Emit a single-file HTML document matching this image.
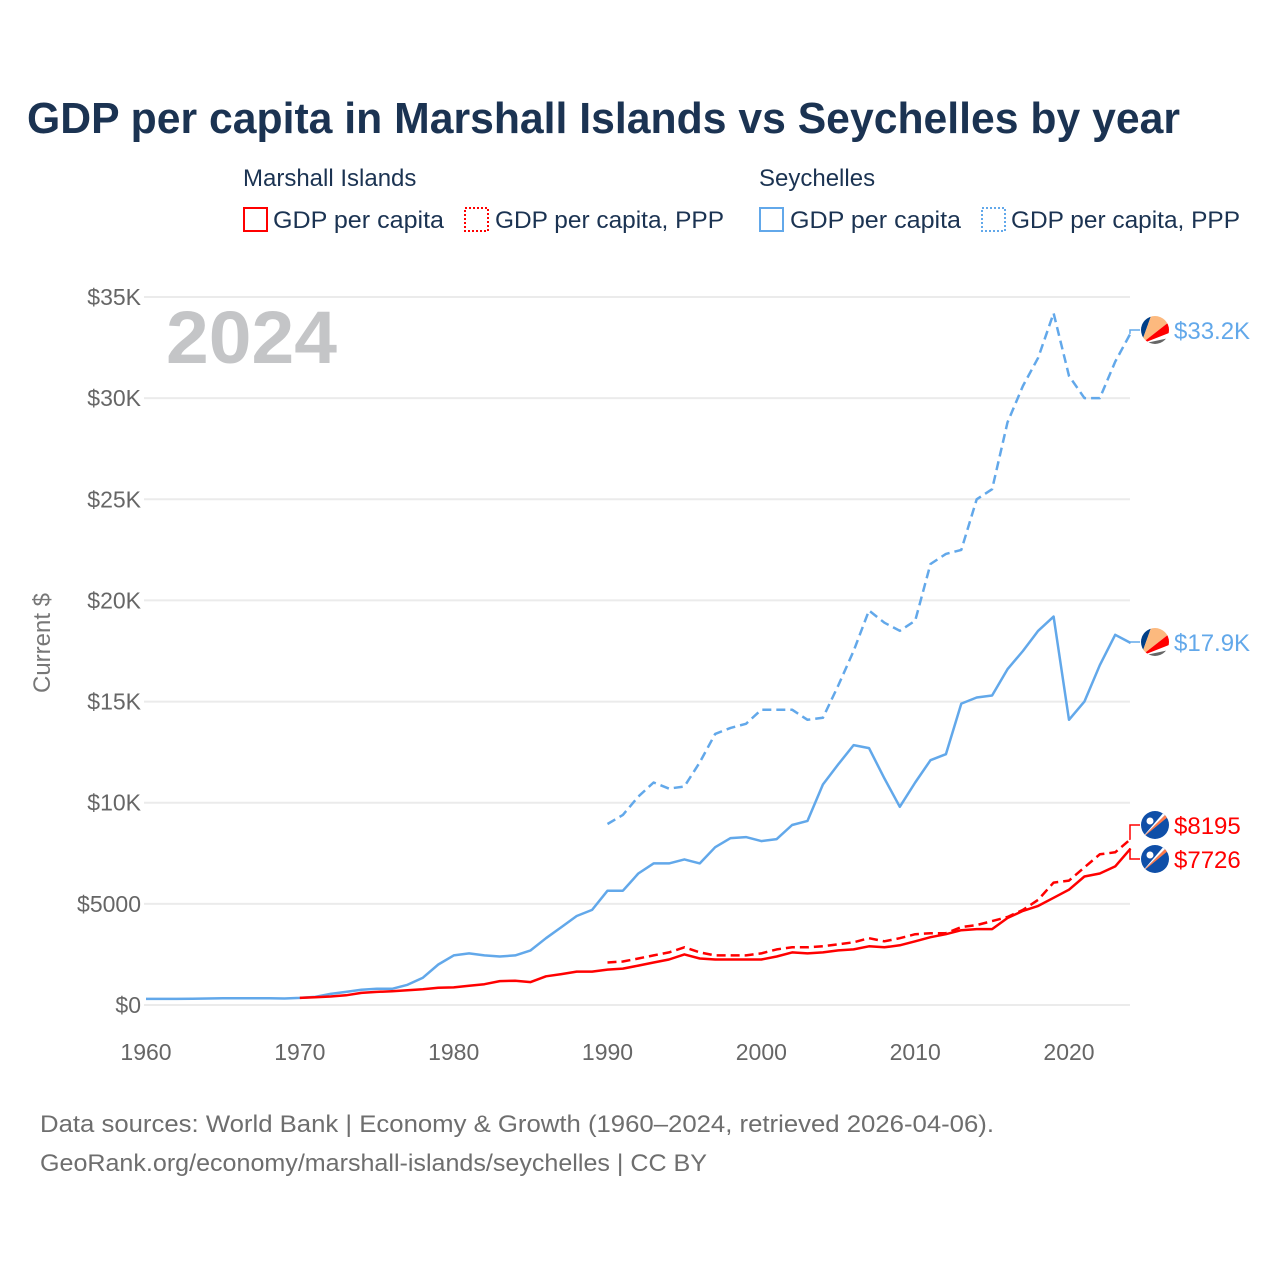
<!DOCTYPE html>
<html><head><meta charset="utf-8"><style>
body{margin:0;background:#fff;}
svg text{font-family:"Liberation Sans",sans-serif;}
</style></head><body>
<svg id="chart" width="1280" height="1280" viewBox="0 0 1280 1280" xmlns="http://www.w3.org/2000/svg">
<rect width="1280" height="1280" fill="#fff"/>
<text x="27" y="133" font-size="44" font-weight="bold" fill="#1b3352" textLength="1153" lengthAdjust="spacingAndGlyphs">GDP per capita in Marshall Islands vs Seychelles by year</text>
<g font-size="24" fill="#1b3352">
<text x="243" y="186">Marshall Islands</text>
<text x="759" y="186">Seychelles</text>
<g><rect x="244" y="208" width="23" height="23" fill="none" stroke="#f00" stroke-width="2"/><text x="273" y="228" textLength="171" lengthAdjust="spacingAndGlyphs">GDP per capita</text></g>
<g><rect x="465" y="208" width="23" height="23" fill="none" stroke="#f00" stroke-width="2" stroke-dasharray="2,2"/><text x="495" y="228" textLength="229" lengthAdjust="spacingAndGlyphs">GDP per capita, PPP</text></g>
<g><rect x="760" y="208" width="23" height="23" fill="none" stroke="#62a8ea" stroke-width="2"/><text x="790" y="228" textLength="171" lengthAdjust="spacingAndGlyphs">GDP per capita</text></g>
<g><rect x="982" y="208" width="23" height="23" fill="none" stroke="#62a8ea" stroke-width="2" stroke-dasharray="2,2"/><text x="1011" y="228" textLength="229" lengthAdjust="spacingAndGlyphs">GDP per capita, PPP</text></g>
</g>
<text x="166" y="363" font-size="74" font-weight="bold" fill="#c4c5c7" textLength="171" lengthAdjust="spacingAndGlyphs">2024</text>
<text transform="translate(50,643) rotate(-90)" text-anchor="middle" font-size="24" fill="#777">Current $</text>
<g id="grid"></g><g id="series"></g><g id="labels"></g>
<text x="40" y="1132" font-size="24" fill="#6e6e6e" textLength="954" lengthAdjust="spacingAndGlyphs">Data sources: World Bank | Economy &amp; Growth (1960–2024, retrieved 2026-04-06).</text>
<text x="40" y="1171" font-size="24" fill="#6e6e6e" textLength="667" lengthAdjust="spacingAndGlyphs">GeoRank.org/economy/marshall-islands/seychelles | CC BY</text>
</svg>
<script>
const yTicks=[0,5000,10000,15000,20000,25000,30000,35000];
const yTickLabels=["$0","$5000","$10K","$15K","$20K","$25K","$30K","$35K"];
const xTicks=[1960,1970,1980,1990,2000,2010,2020];
const scGdpStart=1960;
const scGdp=[300,300,300,310,320,330,330,330,330,320,350,400,550,650,750,800,800,1000,1350,2000,2450,2550,2450,2400,2450,2700,3300,3850,4400,4700,5650,5650,6500,7000,7000,7200,7000,7800,8250,8300,8100,8200,8900,9100,10900,11900,12850,12700,11200,9800,11000,12100,12400,14900,15200,15300,16600,17500,18500,19200,14100,15000,16800,18300,17900];
const scPppStart=1990;
const scPpp=[8950,9400,10300,11000,10700,10800,12000,13400,13700,13900,14600,14600,14600,14100,14200,15800,17500,19500,18900,18500,19000,21800,22300,22500,25000,25500,28800,30600,32000,34200,31100,30000,30000,31800,33200];
const mhGdpStart=1970;
const mhGdp=[350,380,420,480,600,650,680,730,780,850,870,950,1030,1180,1200,1130,1420,1530,1650,1650,1750,1800,1950,2100,2250,2500,2300,2250,2250,2250,2250,2400,2600,2550,2600,2700,2750,2900,2850,2950,3150,3350,3500,3700,3750,3750,4300,4650,4900,5300,5700,6350,6500,6850,7726];
const mhPppStart=1990;
const mhPpp=[2100,2150,2300,2450,2600,2850,2600,2450,2450,2450,2550,2750,2850,2850,2900,3000,3100,3300,3150,3300,3500,3550,3550,3850,3950,4150,4350,4700,5200,6050,6150,6800,7450,7550,8195];
const endLabels=["$33.2K","$17.9K","$8195","$7726"];

const NS="http://www.w3.org/2000/svg";
const X0=146,X1=1069,Y0=1005,Y1=297;
const xs=y=>X0+(y-1960)*(X1-X0)/60;
const ys=v=>Y0-v*(Y0-Y1)/35000;
function mk(tag,attrs,parent){const e=document.createElementNS(NS,tag);for(const k in attrs)e.setAttribute(k,attrs[k]);parent.appendChild(e);return e;}
const grid=document.getElementById('grid');
yTicks.forEach((t,i)=>{
  const l=mk('line',{x1:144,x2:1130,y1:ys(t),y2:ys(t),stroke:'#ebebeb','stroke-width':2},grid);
  
  
  const tx=mk('text',{x:141,y:ys(t)+8,'text-anchor':'end','font-size':23,fill:'#666'},grid);
  tx.textContent=yTickLabels[i];
  
  
});
xTicks.forEach(t=>{
  const tx=mk('text',{x:xs(t),y:1060,'text-anchor':'middle','font-size':23,fill:'#666'},grid);
  tx.textContent=t;
  
  
});
const ser=document.getElementById('series');
function line(arr,start,color,dash,name){
  const d=arr.map((v,i)=>(i?'L':'M')+xs(start+i).toFixed(1)+','+ys(v).toFixed(1)).join('');
  const p=mk('path',{d:d,fill:'none',stroke:color,'stroke-width':2.5,'stroke-linejoin':'round'},ser);
  if(dash)p.setAttribute('stroke-dasharray','9,5');
  
  
}
line(scPpp,scPppStart,'#62a8ea',true,'seychelles-ppp-line');
line(scGdp,scGdpStart,'#62a8ea',false,'seychelles-gdp-line');
line(mhPpp,mhPppStart,'#ff0000',true,'marshall-ppp-line');
line(mhGdp,mhGdpStart,'#ff0000',false,'marshall-gdp-line');
const lab=document.getElementById('labels');
const ends=[
 {v:scPpp[scPpp.length-1],ly:330,c:'#62a8ea',f:'sc'},
 {v:scGdp[scGdp.length-1],ly:642,c:'#62a8ea',f:'sc'},
 {v:mhPpp[mhPpp.length-1],ly:825,c:'#ff0000',f:'mh'},
 {v:mhGdp[mhGdp.length-1],ly:859,c:'#ff0000',f:'mh'}];
ends.forEach((e,i)=>{
  const ey=ys(e.v);
  const g=mk('g',{},lab);
  
  
  mk('path',{d:`M${xs(2024)},${ey}H1130V${e.ly}H1140`,fill:'none',stroke:e.c,'stroke-width':1.5},g);
  const cx=1155,cy=e.ly;
  const clip=mk('clipPath',{id:'c'+i},g);
  mk('circle',{cx:cx,cy:cy,r:14},clip);
  const fg=mk('g',{'clip-path':`url(#c${i})`},g);
  if(e.f==='sc'){
    mk('rect',{x:cx-15,y:cy-15,width:30,height:30,fill:'#fff'},fg);
    mk('path',{d:`M${cx-14},${cy+14}L${cx-14},${cy-14}L${cx-4},${cy-14}Z`,fill:'#003f87'},fg);
    mk('path',{d:`M${cx-14},${cy+14}L${cx-4},${cy-14}L${cx+6},${cy-14}L${cx+14},${cy-8}Z`,fill:'#fcb97e'},fg);
    mk('path',{d:`M${cx-14},${cy+14}L${cx+14},${cy-8}L${cx+14},${cy+3}Z`,fill:'#f00'},fg);
    mk('path',{d:`M${cx-14},${cy+14}L${cx+14},${cy+8}L${cx+14},${cy+14}Z`,fill:'#666'},fg);
  }else{
    mk('rect',{x:cx-15,y:cy-15,width:30,height:30,fill:'#0f4fa8'},fg);
    mk('path',{d:`M${cx-14},${cy+14}L${cx+14},${cy-14}L${cx+14},${cy-9}Z`,fill:'#ff7a4a'},fg);
    mk('path',{d:`M${cx-14},${cy+14}L${cx+14},${cy-14}L${cx+10},${cy-14}Z`,fill:'#fff'},fg);
    mk('circle',{cx:cx-5,cy:cy-4,r:3.5,fill:'#fff'},fg);
  }
  const t=mk('text',{x:1174,y:e.ly+9,'font-size':24,fill:e.c},g);
  t.textContent=endLabels[i];
});
</script>
</body></html>
